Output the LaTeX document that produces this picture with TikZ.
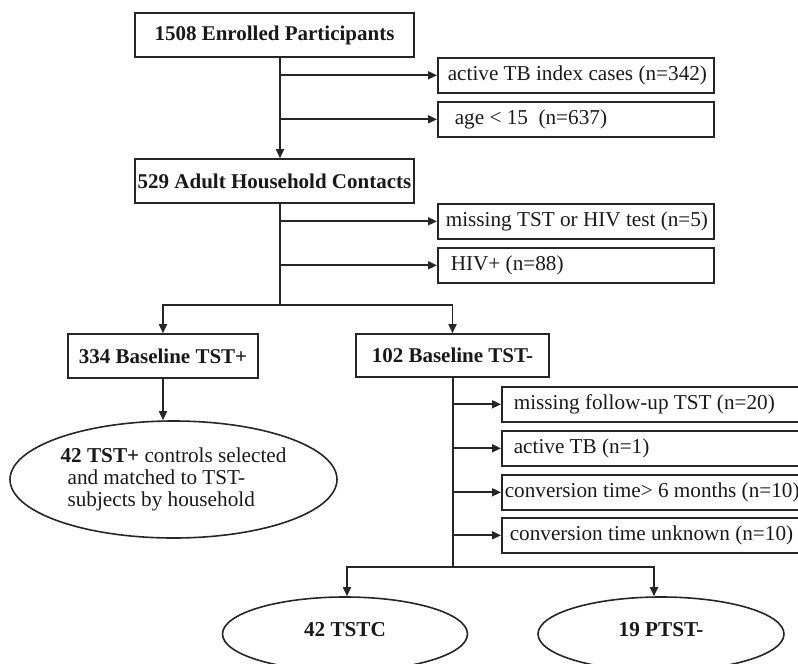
\documentclass[tikz,border=0pt]{standalone}
\usepackage{fontspec}
\setmainfont{Liberation Serif}
\usetikzlibrary{arrows.meta,shapes.geometric}
\newcommand{\lbox}[2]{\makebox[#1][l]{#2}}
\begin{document}
\begin{tikzpicture}[x=1pt,y=-1pt,
  every node/.style={font=\fontsize{21.2}{22}\selectfont, text=black!90},
  ln/.style={line width=1.7pt, draw=black!85},
  arr/.style={ln, -{Triangle[length=9pt,width=8pt]}},
  mainbox/.style={draw=black!85, line width=1.6pt, inner sep=0pt, font=\fontsize{21}{22}\selectfont\bfseries},
  exbox/.style={draw=black!85, line width=1.6pt, anchor=north west, minimum height=35pt, inner ysep=0pt, inner xsep=0pt},
  oval/.style={draw=black!85, line width=1.6pt, ellipse, inner sep=0pt}
]
\useasboundingbox (0,0) rectangle (798,664);
\clip (0,0) rectangle (798,664);
% main boxes
\node[mainbox, minimum width=279pt, minimum height=44pt] (n1508) at (274.5,35) {1508 Enrolled Participants};
\node[mainbox, minimum width=279pt, minimum height=44pt] (n529) at (274.5,181) {529 Adult Household Contacts};
\node[mainbox, minimum width=190pt, minimum height=44pt] (n334) at (163,356) {334 Baseline TST+};
\node[mainbox, minimum width=193pt, minimum height=43pt] (n102) at (452.5,355.5) {102 Baseline TST-};
% exclusion boxes
\node[exbox] (exA) at (437,57) {\lbox{276pt}{\hspace{10pt}active TB index cases (n=342)}};
\node[exbox] (exB) at (437,101) {\lbox{276pt}{\hspace{17pt}age < 15\ \ (n=637)}};
\node[exbox] (exC) at (437,203) {\lbox{276pt}{\hspace{8pt}missing TST or HIV test (n=5)}};
\node[exbox] (exD) at (437,247) {\lbox{276pt}{\hspace{13pt}HIV+ (n=88)}};
\node[exbox] (exE) at (501,386) {\lbox{310pt}{\hspace{12pt}missing follow-up TST (n=20)}};
\node[exbox] (exF) at (501,430) {\lbox{310pt}{\hspace{12pt}active TB (n=1)}};
\node[exbox] (exG) at (501,474) {\lbox{310pt}{\hspace{3pt}conversion time> 6 months (n=10)}};
\node[exbox] (exH) at (501,517) {\lbox{310pt}{\hspace{8pt}conversion time unknown (n=10)}};
% ovals
\node[oval, minimum width=327pt, minimum height=117pt, align=left] (e42) at (173.5,479.5)
  {\textbf{42 TST+} controls selected\\\hspace{7pt}and matched to TST-\\\hspace{7pt}subjects by household};
\node[oval, minimum width=245pt, minimum height=74pt] (tstc) at (345,634) {\raisebox{10pt}{\textbf{42 TSTC}}};
\node[oval, minimum width=246pt, minimum height=74pt] (ptst) at (661,634) {\raisebox{10pt}{\textbf{19 PTST-}}};
% coordinates
\coordinate (sp1) at (280,0);
\coordinate (split1) at (280,305);
\coordinate (sp2) at (453,0);
\coordinate (split2) at (453,567);
\coordinate (la) at (347,0);
\coordinate (pa) at (654,0);
% connectors
\draw[arr] (sp1 |- n1508.south) -- (sp1 |- n529.north);
\draw[arr] (sp1 |- exA.west) -- (exA.west);
\draw[arr] (sp1 |- exB.west) -- (exB.west);
\draw[ln] (sp1 |- n529.south) -- (split1);
\draw[arr] (sp1 |- exC.west) -- (exC.west);
\draw[arr] (sp1 |- exD.west) -- (exD.west);
\draw[arr] (split1) -| (n334.north);
\draw[arr] (split1) -| (n102.north);
\draw[arr] (n334.south) -- (n334.south |- e42.north);
\draw[ln] (sp2 |- n102.south) -- (split2);
\draw[arr] (sp2 |- exE.west) -- (exE.west);
\draw[arr] (sp2 |- exF.west) -- (exF.west);
\draw[arr] (sp2 |- exG.west) -- (exG.west);
\draw[arr] (sp2 |- exH.west) -- (exH.west);
\draw[arr] (split2) -| (la |- tstc.north);
\draw[arr] (split2) -| (pa |- ptst.north);
\end{tikzpicture}
\end{document}
